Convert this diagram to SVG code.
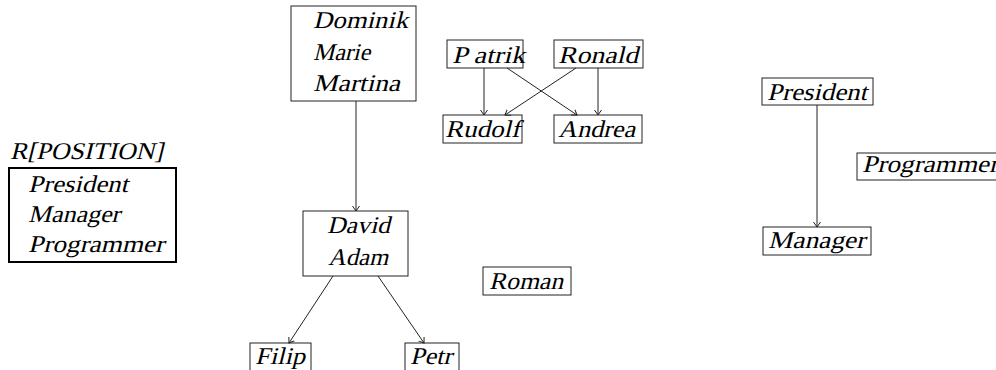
<svg xmlns="http://www.w3.org/2000/svg" width="996" height="370" viewBox="0 0 996 370">
  <defs>
    <marker id="arrow" markerUnits="userSpaceOnUse" markerWidth="10" markerHeight="10" refX="5" refY="4" orient="auto" viewBox="0 0 10 8">
      <path d="M0,0.5 L5,4 L0,7.5" fill="none" stroke="#222" stroke-width="1"/>
    </marker>
  </defs>
  <style>
    .box { fill: #fff; stroke: #222; stroke-width: 1; }
    .thick { fill: #fff; stroke: #000; stroke-width: 2; }
    .edge { stroke: #222; stroke-width: 1; fill: none; marker-end: url(#arrow); }
    text { font-family: "Liberation Serif", "Times New Roman", serif; font-style: normal; font-size: 24px; fill: #000; }
  </style>
  <rect width="996" height="370" fill="#fff"/>

  <!-- labels are upright serif type slanted by a skew, placed by translate -->
  <!-- relation header and its value list -->
  <g id="position">
    <text transform="translate(10,159) skewX(-14)" textLength="153" lengthAdjust="spacingAndGlyphs">R[POSITION]</text>
    <rect class="thick" x="9" y="168" width="167" height="94"/>
    <text transform="translate(28,192) skewX(-14)" textLength="100" lengthAdjust="spacingAndGlyphs">President</text>
    <text transform="translate(28,222) skewX(-14)" textLength="92" lengthAdjust="spacingAndGlyphs">Manager</text>
    <text transform="translate(28,252) skewX(-14)" textLength="136" lengthAdjust="spacingAndGlyphs">Programmer</text>
  </g>

  <!-- tree: Dominik/Marie/Martina -> David/Adam -> Filip, Petr -->
  <g id="dominik">
    <rect class="box" x="291" y="6" width="125" height="95"/>
    <text transform="translate(313,28) skewX(-14)" textLength="95" lengthAdjust="spacingAndGlyphs">Dominik</text>
    <text transform="translate(313,60) skewX(-14)" textLength="57" lengthAdjust="spacingAndGlyphs">Marie</text>
    <text transform="translate(313,91) skewX(-14)" textLength="87" lengthAdjust="spacingAndGlyphs">Martina</text>
  </g>
  <g id="david">
    <rect class="box" x="303" y="211" width="105" height="65"/>
    <text transform="translate(327,233) skewX(-14)" textLength="63" lengthAdjust="spacingAndGlyphs">David</text>
    <text transform="translate(328,265) skewX(-14)" textLength="60" lengthAdjust="spacingAndGlyphs">Adam</text>
  </g>
  <g id="filip">
    <rect class="box" x="250" y="343" width="61" height="40"/>
    <text transform="translate(255,364) skewX(-14)" textLength="50" lengthAdjust="spacingAndGlyphs">Filip</text>
  </g>
  <g id="petr">
    <rect class="box" x="405" y="343" width="54" height="40"/>
    <text transform="translate(410,364) skewX(-14)" textLength="42" lengthAdjust="spacingAndGlyphs">Petr</text>
  </g>
  <g id="roman">
    <rect class="box" x="483" y="267" width="88" height="28"/>
    <text transform="translate(489,289) skewX(-14)" textLength="74" lengthAdjust="spacingAndGlyphs">Roman</text>
  </g>

  <!-- crossed pair -->
  <g id="patrik">
    <rect class="box" x="447" y="40" width="76" height="28"/>
    <text transform="translate(452,63) skewX(-14)" textLength="73" lengthAdjust="spacingAndGlyphs">P atrik</text>
  </g>
  <g id="ronald">
    <rect class="box" x="554" y="40" width="89" height="28"/>
    <text transform="translate(558,63) skewX(-14)" textLength="80" lengthAdjust="spacingAndGlyphs">Ronald</text>
  </g>
  <g id="rudolf">
    <rect class="box" x="443" y="115" width="79" height="28"/>
    <text transform="translate(445,137) skewX(-14)" textLength="75" lengthAdjust="spacingAndGlyphs">Rudolf</text>
  </g>
  <g id="andrea">
    <rect class="box" x="554" y="115" width="88" height="28"/>
    <text transform="translate(558,137) skewX(-14)" textLength="77" lengthAdjust="spacingAndGlyphs">Andrea</text>
  </g>

  <!-- position hierarchy -->
  <g id="president">
    <rect class="box" x="762" y="78" width="111" height="27"/>
    <text transform="translate(767,100) skewX(-14)" textLength="100" lengthAdjust="spacingAndGlyphs">President</text>
  </g>
  <g id="manager">
    <rect class="box" x="763" y="227" width="108" height="28"/>
    <text transform="translate(768,248) skewX(-14)" textLength="97" lengthAdjust="spacingAndGlyphs">Manager</text>
  </g>
  <g id="programmer">
    <rect class="box" x="857" y="153" width="150" height="27"/>
    <text transform="translate(862,172) skewX(-14)" textLength="136" lengthAdjust="spacingAndGlyphs">Programmer</text>
  </g>

  <g id="connectors">
    <line class="edge" x1="356" y1="101" x2="356" y2="211"/>
    <line class="edge" x1="333" y1="276" x2="289" y2="343"/>
    <line class="edge" x1="378" y1="276" x2="424" y2="343"/>
    <line class="edge" x1="484" y1="68" x2="484" y2="115"/>
    <line class="edge" x1="507" y1="68" x2="577" y2="115"/>
    <line class="edge" x1="576" y1="68" x2="505" y2="115"/>
    <line class="edge" x1="598" y1="68" x2="598" y2="115"/>
    <line class="edge" x1="817" y1="105" x2="817" y2="227"/>
  </g>
</svg>
